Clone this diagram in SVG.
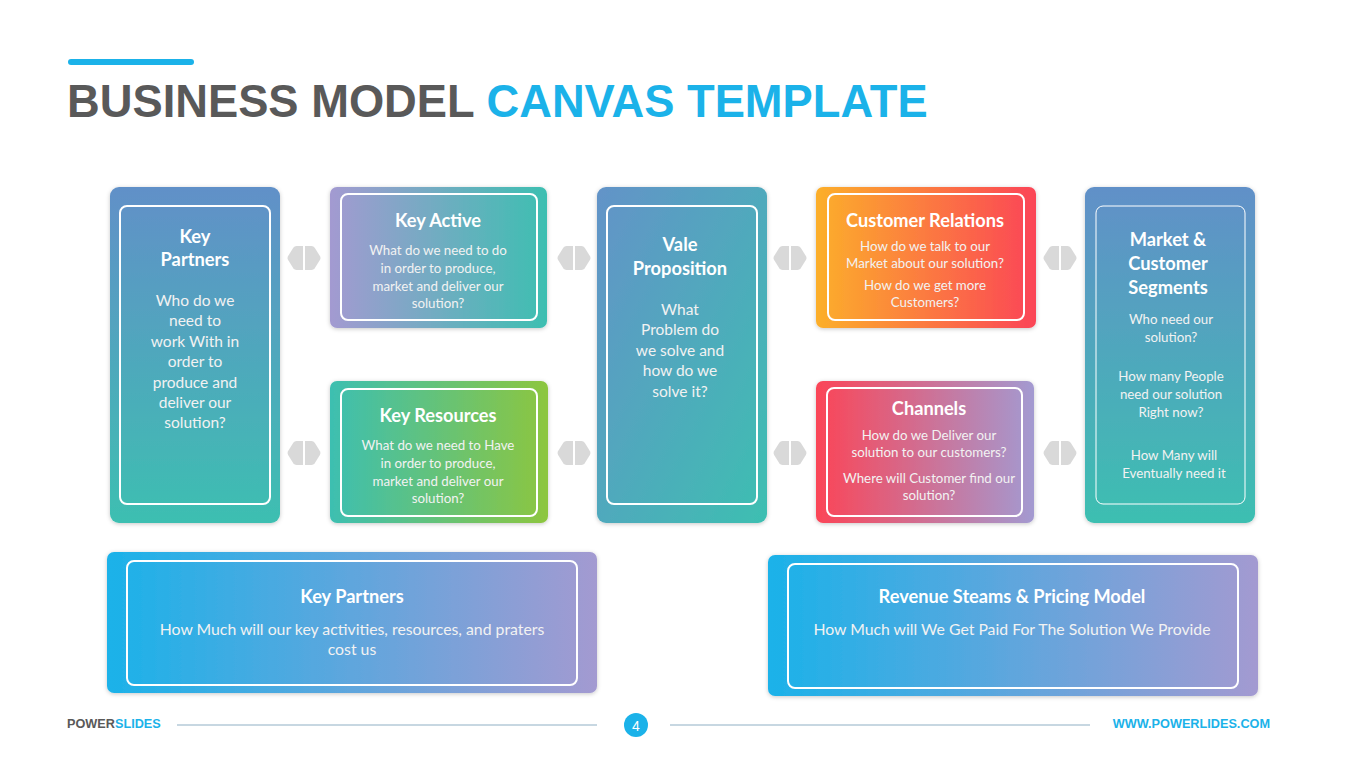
<svg xmlns="http://www.w3.org/2000/svg" width="1365" height="767" viewBox="0 0 1365 767">
<defs>
<linearGradient id="gBT" x1="0" y1="0" x2="0" y2="1"><stop offset="0" stop-color="#6190C8"/><stop offset="1" stop-color="#3DBFB1"/></linearGradient>
<linearGradient id="gDiag" x1="0" y1="0" x2="1" y2="1"><stop offset="0" stop-color="#6393C8"/><stop offset="1" stop-color="#3DBFB1"/></linearGradient>
<linearGradient id="gPT" x1="0" y1="0" x2="1" y2="0"><stop offset="0" stop-color="#A39AD1"/><stop offset="1" stop-color="#3DBFB1"/></linearGradient>
<linearGradient id="gTG" x1="0" y1="0" x2="1" y2="0"><stop offset="0" stop-color="#3DBFB1"/><stop offset="1" stop-color="#8DC63F"/></linearGradient>
<linearGradient id="gOR" x1="0" y1="0" x2="1" y2="0"><stop offset="0" stop-color="#FCAF2A"/><stop offset="1" stop-color="#FB4557"/></linearGradient>
<linearGradient id="gRP" x1="0" y1="0" x2="1" y2="0"><stop offset="0" stop-color="#FB4557"/><stop offset="1" stop-color="#A39AD1"/></linearGradient>
<linearGradient id="gBlP" x1="0" y1="0" x2="1" y2="0"><stop offset="0" stop-color="#1BB2E9"/><stop offset="1" stop-color="#A39AD1"/></linearGradient>
<filter id="sh" x="-10%" y="-10%" width="120%" height="120%"><feDropShadow dx="0" dy="1" stdDeviation="2" flood-color="#000" flood-opacity="0.22"/></filter>
<g id="arr">
<path d="M16,0 L9.5,0 Q7.5,0 6.3,1.8 L1,10.2 Q0,12 1,13.8 L6.3,22.2 Q7.5,24 9.5,24 L16,24 Z" fill="#D9D9D9"/>
<path d="M18,0 L24.5,0 Q26.5,0 27.7,1.8 L33,10.2 Q34,12 33,13.8 L27.7,22.2 Q26.5,24 24.5,24 L18,24 Z" fill="#D9D9D9"/>
</g>
</defs>
<style>
.inner{fill:none;stroke:#fff;stroke-width:2}
.t{font-family:Lato,"Open Sans",sans-serif;font-weight:700;fill:#fff;text-anchor:middle}
.b{font-family:Lato,"Open Sans",sans-serif;fill:#F2F2F2;text-anchor:middle}
.s13{font-size:13.3px}
.s15{font-size:15.5px}
.s16{font-size:15.8px}
.h17{font-size:18.2px}
.h18{font-size:18.3px}
</style>
<rect width="1365" height="767" fill="#fff"/>
<rect x="68" y="59" width="126" height="6" rx="3" fill="#1BB2E9"/>
<text x="67" y="117" font-family="Liberation Sans, Arial, sans-serif" font-weight="700" font-size="45.3" fill="#595959">BUSINESS MODEL <tspan fill="#1BB2E9">CANVAS TEMPLATE</tspan></text>

<g id="connectors">
<use href="#arr" x="287" y="246"/>
<use href="#arr" x="287" y="441"/>
<use href="#arr" x="557" y="246"/>
<use href="#arr" x="557" y="441"/>
<use href="#arr" x="773" y="246"/>
<use href="#arr" x="773" y="441"/>
<use href="#arr" x="1043" y="246"/>
<use href="#arr" x="1043" y="441"/>
</g>

<g id="key-partners">
<rect x="110" y="187" width="170" height="336" rx="9" fill="url(#gBT)" filter="url(#sh)"/>
<rect x="120" y="206" width="150" height="298" rx="7" class="inner"/>
<text class="t h18" x="195" y="243">Key</text>
<text class="t h18" x="195" y="266">Partners</text>
<text class="b s15" x="195" y="306">Who do we</text>
<text class="b s15" x="195" y="326">need to</text>
<text class="b s15" x="195" y="347">work With in</text>
<text class="b s15" x="195" y="367">order to</text>
<text class="b s15" x="195" y="388">produce and</text>
<text class="b s15" x="195" y="408">deliver our</text>
<text class="b s15" x="195" y="428">solution?</text>
</g>

<g id="key-active">
<rect x="330" y="187" width="217" height="141" rx="7" fill="url(#gPT)" filter="url(#sh)"/>
<rect x="341" y="194" width="196" height="126" rx="7" class="inner"/>
<text class="t h17" x="438" y="227">Key Active</text>
<text class="b s13" x="438" y="255">What do we need to do</text>
<text class="b s13" x="438" y="273">in order to produce,</text>
<text class="b s13" x="438" y="291">market and deliver our</text>
<text class="b s13" x="438" y="308">solution?</text>
</g>

<g id="key-resources">
<rect x="330" y="381" width="218" height="142" rx="7" fill="url(#gTG)" filter="url(#sh)"/>
<rect x="341" y="389" width="196" height="127" rx="7" class="inner"/>
<text class="t h17" x="438" y="422">Key Resources</text>
<text class="b s13" x="438" y="450">What do we need to Have</text>
<text class="b s13" x="438" y="468">in order to produce,</text>
<text class="b s13" x="438" y="486">market and deliver our</text>
<text class="b s13" x="438" y="503">solution?</text>
</g>

<g id="value-proposition">
<rect x="597" y="187" width="170" height="336" rx="9" fill="url(#gDiag)" filter="url(#sh)"/>
<rect x="607" y="206" width="150" height="298" rx="7" class="inner"/>
<text class="t h18" x="680" y="251">Vale</text>
<text class="t h18" x="680" y="275">Proposition</text>
<text class="b s15" x="680" y="315">What</text>
<text class="b s15" x="680" y="335">Problem do</text>
<text class="b s15" x="680" y="356">we solve and</text>
<text class="b s15" x="680" y="376">how do we</text>
<text class="b s15" x="680" y="397">solve it?</text>
</g>

<g id="customer-relations">
<rect x="816" y="187" width="220" height="141" rx="7" fill="url(#gOR)" filter="url(#sh)"/>
<rect x="828" y="194" width="196" height="126" rx="7" class="inner"/>
<text class="t h17" x="925" y="227">Customer Relations</text>
<text class="b s13" x="925" y="251">How do we talk to our</text>
<text class="b s13" x="925" y="268">Market about our solution?</text>
<text class="b s13" x="925" y="290">How do we get more</text>
<text class="b s13" x="925" y="307">Customers?</text>
</g>

<g id="channels">
<rect x="816" y="381" width="218" height="142" rx="7" fill="url(#gRP)" filter="url(#sh)"/>
<rect x="827" y="388" width="195" height="128" rx="7" class="inner"/>
<text class="t h17" x="929" y="415">Channels</text>
<text class="b s13" x="929" y="440">How do we Deliver our</text>
<text class="b s13" x="929" y="457">solution to our customers?</text>
<text class="b s13" x="929" y="483">Where will Customer find our</text>
<text class="b s13" x="929" y="500">solution?</text>
</g>

<g id="market-segments">
<rect x="1085" y="187" width="170" height="336" rx="9" fill="url(#gBT)" filter="url(#sh)"/>
<rect x="1096" y="206" width="149" height="298" rx="7" fill="none" stroke="#fff" stroke-width="1"/>
<text class="t h18" x="1168" y="246">Market &amp;</text>
<text class="t h18" x="1168" y="270">Customer</text>
<text class="t h18" x="1168" y="294">Segments</text>
<text class="b s13" x="1171" y="324">Who need our</text>
<text class="b s13" x="1171" y="342">solution?</text>
<text class="b s13" x="1171" y="381">How many People</text>
<text class="b s13" x="1171" y="399">need our solution</text>
<text class="b s13" x="1171" y="417">Right now?</text>
<text class="b s13" x="1174" y="460">How Many will</text>
<text class="b s13" x="1174" y="478">Eventually need it</text>
</g>

<g id="cost-structure">
<rect x="107" y="552" width="490" height="141" rx="7" fill="url(#gBlP)" filter="url(#sh)"/>
<rect x="127" y="561" width="450" height="124" rx="7" class="inner"/>
<text class="t h17" x="352" y="603">Key Partners</text>
<text class="b s16" x="352" y="635">How Much will our key activities, resources, and praters</text>
<text class="b s16" x="352" y="655">cost us</text>
</g>

<g id="revenue-streams">
<rect x="768" y="555" width="490" height="141" rx="7" fill="url(#gBlP)" filter="url(#sh)"/>
<rect x="788" y="564" width="450" height="124" rx="7" class="inner"/>
<text class="t h17" x="1012" y="603">Revenue Steams &amp; Pricing Model</text>
<text class="b s16" x="1012" y="635">How Much will We Get Paid For The Solution We Provide</text>
</g>

<g id="footer">
<text x="67" y="728" font-family="Liberation Sans, Arial, sans-serif" font-weight="700" font-size="12.7" fill="#595959">POWER<tspan fill="#1BB2E9">SLIDES</tspan></text>
<line x1="177" y1="725" x2="597" y2="725" stroke="#8FAFC4" stroke-width="1"/>
<circle cx="636" cy="725" r="12" fill="#1BB2E9"/>
<text x="636" y="730.5" font-family="Liberation Sans, Arial, sans-serif" font-size="14" fill="#fff" text-anchor="middle">4</text>
<line x1="670" y1="725" x2="1090" y2="725" stroke="#8FAFC4" stroke-width="1"/>
<text x="1270" y="728" font-family="Liberation Sans, Arial, sans-serif" font-weight="700" font-size="12.7" fill="#1BB2E9" text-anchor="end">WWW.POWERLIDES.COM</text>
</g>
</svg>
